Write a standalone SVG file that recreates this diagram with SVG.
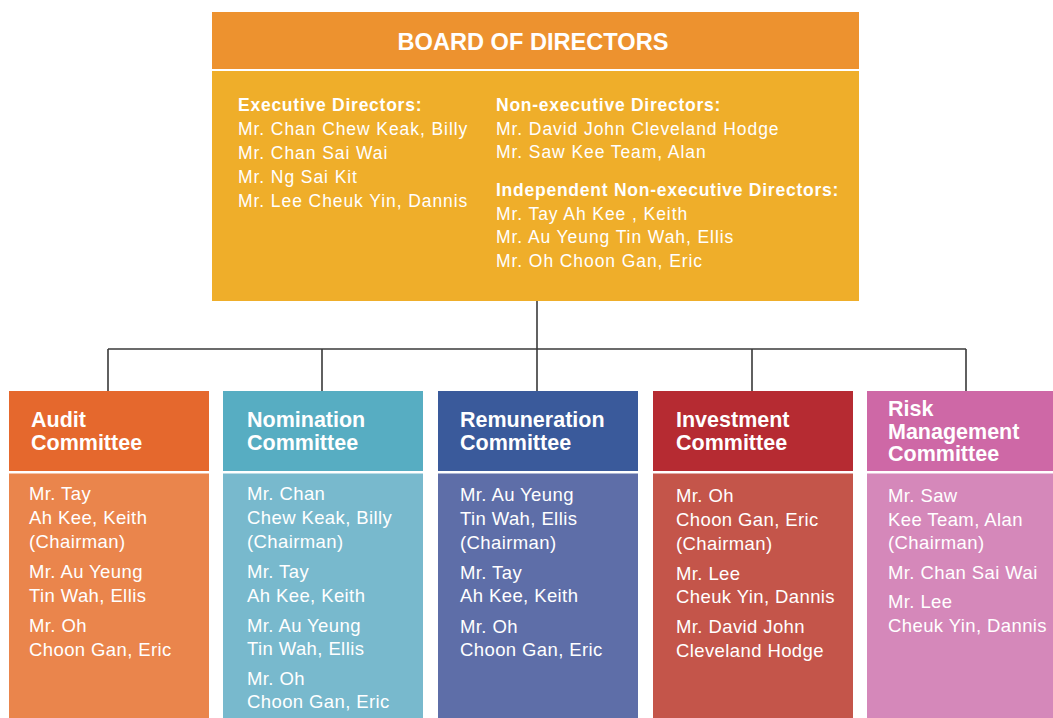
<svg xmlns="http://www.w3.org/2000/svg" width="1053" height="718" viewBox="0 0 1053 718">
  <style>
    .title { font-family: "Liberation Sans", Arial, sans-serif; font-weight: bold; font-size: 23.6px; fill: #ffffff; }
    .bh { font-family: "Liberation Sans", Arial, sans-serif; font-weight: bold; font-size: 17.5px; letter-spacing: 0.75px; fill: #ffffff; }
    .bt { font-family: "Liberation Sans", Arial, sans-serif; font-size: 17.5px; letter-spacing: 0.92px; fill: #ffffff; }
    .ch { font-family: "Liberation Sans", Arial, sans-serif; font-weight: bold; font-size: 21.5px; fill: #ffffff; }
    .ct { font-family: "Liberation Sans", Arial, sans-serif; font-size: 18.5px; letter-spacing: 0.4px; fill: #ffffff; }
    .sep { fill: #ffffff; }
    .link { fill: none; stroke: #3a3a3a; stroke-width: 1.6; }
  </style>

  <rect width="1053" height="718" fill="#ffffff"/>

  <!-- connectors -->
  <g id="connectors">
    <path class="link" d="M537 301 V349"/>
    <path class="link" d="M108 349 H966" stroke-width="2"/>
    <path class="link" d="M108 349 V391 M322 349 V391 M537 349 V391 M752 349 V391 M966 349 V391"/>
  </g>

  <!-- board of directors -->
  <g id="board">
    <rect x="212" y="12" width="647" height="58" fill="#ED922F"/>
    <rect x="212" y="71" width="647" height="230" fill="#EFAE2A"/>
    <rect class="sep" x="212" y="69" width="647" height="2"/>
    <text class="title" x="533" y="50" text-anchor="middle">BOARD OF DIRECTORS</text>
    <text class="bh" x="238" y="111">Executive Directors:</text>
    <text class="bt" x="238" y="135">Mr. Chan Chew Keak, Billy</text>
    <text class="bt" x="238" y="159">Mr. Chan Sai Wai</text>
    <text class="bt" x="238" y="183">Mr. Ng Sai Kit</text>
    <text class="bt" x="238" y="207">Mr. Lee Cheuk Yin, Dannis</text>
    <text class="bh" x="496" y="111">Non-executive Directors:</text>
    <text class="bt" x="496" y="135">Mr. David John Cleveland Hodge</text>
    <text class="bt" x="496" y="158">Mr. Saw Kee Team, Alan</text>
    <text class="bh" x="496" y="196">Independent Non-executive Directors:</text>
    <text class="bt" x="496" y="220">Mr. Tay Ah Kee , Keith</text>
    <text class="bt" x="496" y="243">Mr. Au Yeung Tin Wah, Ellis</text>
    <text class="bt" x="496" y="267">Mr. Oh Choon Gan, Eric</text>
  </g>

  <!-- audit committee -->
  <g id="audit">
    <rect x="9" y="391" width="200" height="80" fill="#E5682D"/>
    <rect x="9" y="473.5" width="200" height="244.5" fill="#EA854C"/>
    <text class="ch" x="31" y="427">Audit</text>
    <text class="ch" x="31" y="450">Committee</text>
    <text class="ct" x="29" y="500">Mr. Tay</text>
    <text class="ct" x="29" y="524">Ah Kee, Keith</text>
    <text class="ct" x="29" y="548">(Chairman)</text>
    <text class="ct" x="29" y="578">Mr. Au Yeung</text>
    <text class="ct" x="29" y="601.5">Tin Wah, Ellis</text>
    <text class="ct" x="29" y="632">Mr. Oh</text>
    <text class="ct" x="29" y="655.5">Choon Gan, Eric</text>
  </g>

  <!-- nomination committee -->
  <g id="nomination">
    <rect x="223" y="391" width="200" height="80" fill="#57ADC2"/>
    <rect x="223" y="473.5" width="200" height="244.5" fill="#78B9CD"/>
    <text class="ch" x="247" y="427">Nomination</text>
    <text class="ch" x="247" y="450">Committee</text>
    <text class="ct" x="247" y="500">Mr. Chan</text>
    <text class="ct" x="247" y="524">Chew Keak, Billy</text>
    <text class="ct" x="247" y="548">(Chairman)</text>
    <text class="ct" x="247" y="578">Mr. Tay</text>
    <text class="ct" x="247" y="601.5">Ah Kee, Keith</text>
    <text class="ct" x="247" y="631.5">Mr. Au Yeung</text>
    <text class="ct" x="247" y="655">Tin Wah, Ellis</text>
    <text class="ct" x="247" y="684.5">Mr. Oh</text>
    <text class="ct" x="247" y="708">Choon Gan, Eric</text>
  </g>

  <!-- remuneration committee -->
  <g id="remuneration">
    <rect x="438" y="391" width="200" height="80" fill="#3A5A9B"/>
    <rect x="438" y="473.5" width="200" height="244.5" fill="#5E6EA8"/>
    <text class="ch" x="460" y="427">Remuneration</text>
    <text class="ch" x="460" y="450">Committee</text>
    <text class="ct" x="460" y="501">Mr. Au Yeung</text>
    <text class="ct" x="460" y="525">Tin Wah, Ellis</text>
    <text class="ct" x="460" y="548.5">(Chairman)</text>
    <text class="ct" x="460" y="578.5">Mr. Tay</text>
    <text class="ct" x="460" y="602">Ah Kee, Keith</text>
    <text class="ct" x="460" y="632.5">Mr. Oh</text>
    <text class="ct" x="460" y="656">Choon Gan, Eric</text>
  </g>

  <!-- investment committee -->
  <g id="investment">
    <rect x="653" y="391" width="200" height="80" fill="#B62B32"/>
    <rect x="653" y="473.5" width="200" height="244.5" fill="#C4554A"/>
    <text class="ch" x="676" y="427">Investment</text>
    <text class="ch" x="676" y="450">Committee</text>
    <text class="ct" x="676" y="502">Mr. Oh</text>
    <text class="ct" x="676" y="526">Choon Gan, Eric</text>
    <text class="ct" x="676" y="549.5">(Chairman)</text>
    <text class="ct" x="676" y="579.5">Mr. Lee</text>
    <text class="ct" x="676" y="603">Cheuk Yin, Dannis</text>
    <text class="ct" x="676" y="633">Mr. David John</text>
    <text class="ct" x="676" y="657">Cleveland Hodge</text>
  </g>

  <!-- risk management committee -->
  <g id="risk">
    <rect x="867" y="391" width="186" height="80" fill="#CE68A6"/>
    <rect x="867" y="473.5" width="186" height="244.5" fill="#D588BA"/>
    <text class="ch" x="888" y="416">Risk</text>
    <text class="ch" x="888" y="438.5">Management</text>
    <text class="ch" x="888" y="461">Committee</text>
    <text class="ct" x="888" y="502">Mr. Saw</text>
    <text class="ct" x="888" y="525.5">Kee Team, Alan</text>
    <text class="ct" x="888" y="549">(Chairman)</text>
    <text class="ct" x="888" y="578.5">Mr. Chan Sai Wai</text>
    <text class="ct" x="888" y="608">Mr. Lee</text>
    <text class="ct" x="888" y="632">Cheuk Yin, Dannis</text>
  </g>
</svg>
